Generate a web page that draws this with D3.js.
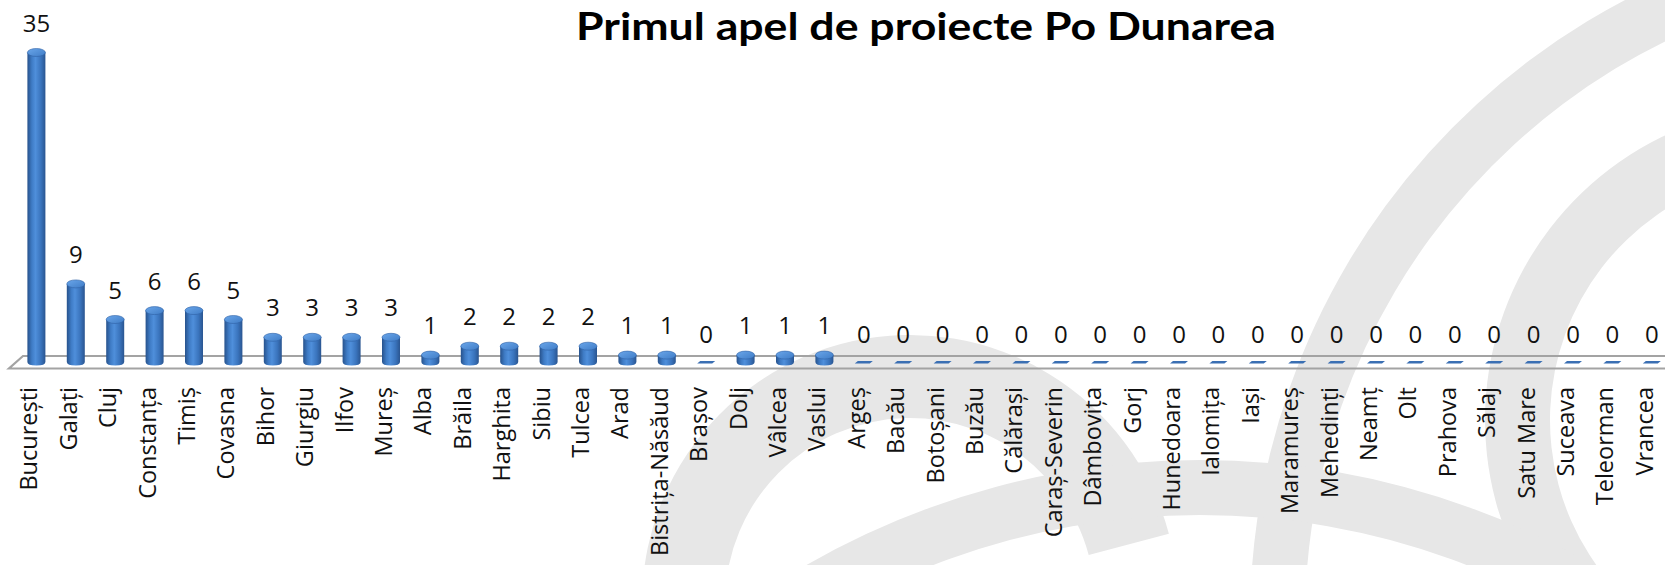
<!DOCTYPE html>
<html>
<head>
<meta charset="utf-8">
<script src="https://cdn.jsdelivr.net/npm/d3@7"></script>
<style>
  html, body { margin: 0; padding: 0; background: #ffffff; }
  svg { display: block; }
</style>
</head>
<body>
<div id="chart"></div>
<script>
const title = "Primul apel de proiecte Po Dunarea";
const categories = ["București","Galați","Cluj","Constanța","Timiș","Covasna","Bihor","Giurgiu","Ilfov","Mureș","Alba","Brăila","Harghita","Sibiu","Tulcea","Arad","Bistrița-Năsăud","Brașov","Dolj","Vâlcea","Vaslui","Argeș","Bacău","Botoșani","Buzău","Călărași","Caraș-Severin","Dâmbovița","Gorj","Hunedoara","Ialomița","Iași","Maramureș","Mehedinți","Neamț","Olt","Prahova","Sălaj","Satu Mare","Suceava","Teleorman","Vrancea"];
const values = [35,9,5,6,6,5,3,3,3,3,1,2,2,2,2,1,1,0,1,1,1,0,0,0,0,0,0,0,0,0,0,0,0,0,0,0,0,0,0,0,0,0];

const W = 1665, H = 565;
const svg = d3.select("#chart").append("svg").attr("width", W).attr("height", H);

// Background watermark arcs
const wm = svg.append("g").attr("fill", "#e7e7e7");
const deg = Math.PI / 180;
const arcs = [
  {cx: 1950, cy: 620, r0: 645, r1: 700, a0: -110, a1: -20},
  {cx: 1800, cy: 420, r0: 250, r1: 315, a0: -140, a1: 0},
  {cx: 910, cy: 603, r0: 185, r1: 268, a0: -100, a1: 75},
  {cx: 1200, cy: 1250, r0: 735, r1: 790, a0: -40, a1: 40},
];
arcs.forEach(a => {
  wm.append("path")
    .attr("transform", `translate(${a.cx},${a.cy})`)
    .attr("d", d3.arc()({innerRadius: a.r0, outerRadius: a.r1, startAngle: a.a0 * deg, endAngle: a.a1 * deg}));
});

// Scales
const x = d3.scaleBand().domain(categories).range([16.7, 16.7 + 39.4 * categories.length]).padding(0);
const y = d3.scaleLinear().domain([0, 35]).range([364, 52.5]);
const bw = 18;

// Gradients
const defs = svg.append("defs");
const g1 = defs.append("linearGradient").attr("id", "cyl").attr("x1", "0").attr("x2", "1").attr("y1", "0").attr("y2", "0");
[[0, "#27528c"], [0.25, "#3f7cc6"], [0.45, "#4f8fdb"], [0.75, "#3a74bd"], [1, "#2a5590"]]
  .forEach(([o, c]) => g1.append("stop").attr("offset", o).attr("stop-color", c));
const g2 = defs.append("linearGradient").attr("id", "cap").attr("x1", "0").attr("x2", "1").attr("y1", "0").attr("y2", "1");
[[0, "#6aa6ea"], [1, "#3f7cc6"]].forEach(([o, c]) => g2.append("stop").attr("offset", o).attr("stop-color", c));

// Floor
const floor = svg.append("g").attr("fill", "none").attr("stroke", "#a3a3a3").attr("stroke-width", 2.2);
floor.append("path").attr("d", `M ${W} 356 L 23 356 L 9 368.5 L ${W} 368.5`);

// Bars
const bars = svg.append("g");
categories.forEach((c, i) => {
  const v = values[i];
  const cx = x(c) + x.bandwidth() / 2;
  const base = y(0);
  if (v === 0) {
    bars.append("path")
      .attr("d", `M ${cx - 9} ${base - 0.5} L ${cx - 6} ${base - 3} L ${cx + 9} ${base - 3} L ${cx + 6} ${base - 0.5} Z`)
      .attr("fill", "#3a6fb3");
    return;
  }
  const top = y(v);
  const r = bw / 2;
  const gb = bars.append("g");
  gb.append("path")
    .attr("d", `M ${cx - r} ${top} L ${cx - r} ${base - 2} Q ${cx - r} ${base + 1.5} ${cx} ${base + 1.5} Q ${cx + r} ${base + 1.5} ${cx + r} ${base - 2} L ${cx + r} ${top} Z`)
    .attr("fill", "url(#cyl)");
  gb.append("ellipse").attr("cx", cx).attr("cy", top).attr("rx", r).attr("ry", 4)
    .attr("fill", "url(#cap)").attr("stroke", "#2f62a6").attr("stroke-width", 0.6);
});

// Data labels
svg.append("g").selectAll("text").data(categories).join("text")
  .attr("x", d => x(d) + x.bandwidth() / 2)
  .attr("y", (d, i) => y(values[i]) - 21)
  .attr("text-anchor", "middle")
  .attr("font-family", "'Open Sans', sans-serif")
  .attr("font-size", 24)
  .attr("fill", "#111")
  .text((d, i) => values[i]);

// Category labels
svg.append("g").selectAll("text").data(categories).join("text")
  .attr("transform", d => `translate(${x(d) + x.bandwidth() / 2 + 1},387) rotate(-90)`)
  .attr("text-anchor", "end")
  .attr("font-family", "'Open Sans', sans-serif")
  .attr("font-size", 23.5)
  .attr("fill", "#111")
  .text(d => d);

// Title
svg.append("text")
  .attr("x", 926).attr("y", 40)
  .attr("text-anchor", "middle")
  .attr("font-family", "Lato, 'Open Sans', sans-serif")
  .attr("font-weight", "bold")
  .attr("font-size", 38)
  .attr("textLength", 700)
  .attr("lengthAdjust", "spacingAndGlyphs")
  .attr("fill", "#000")
  .text(title);
</script>
</body>
</html>
